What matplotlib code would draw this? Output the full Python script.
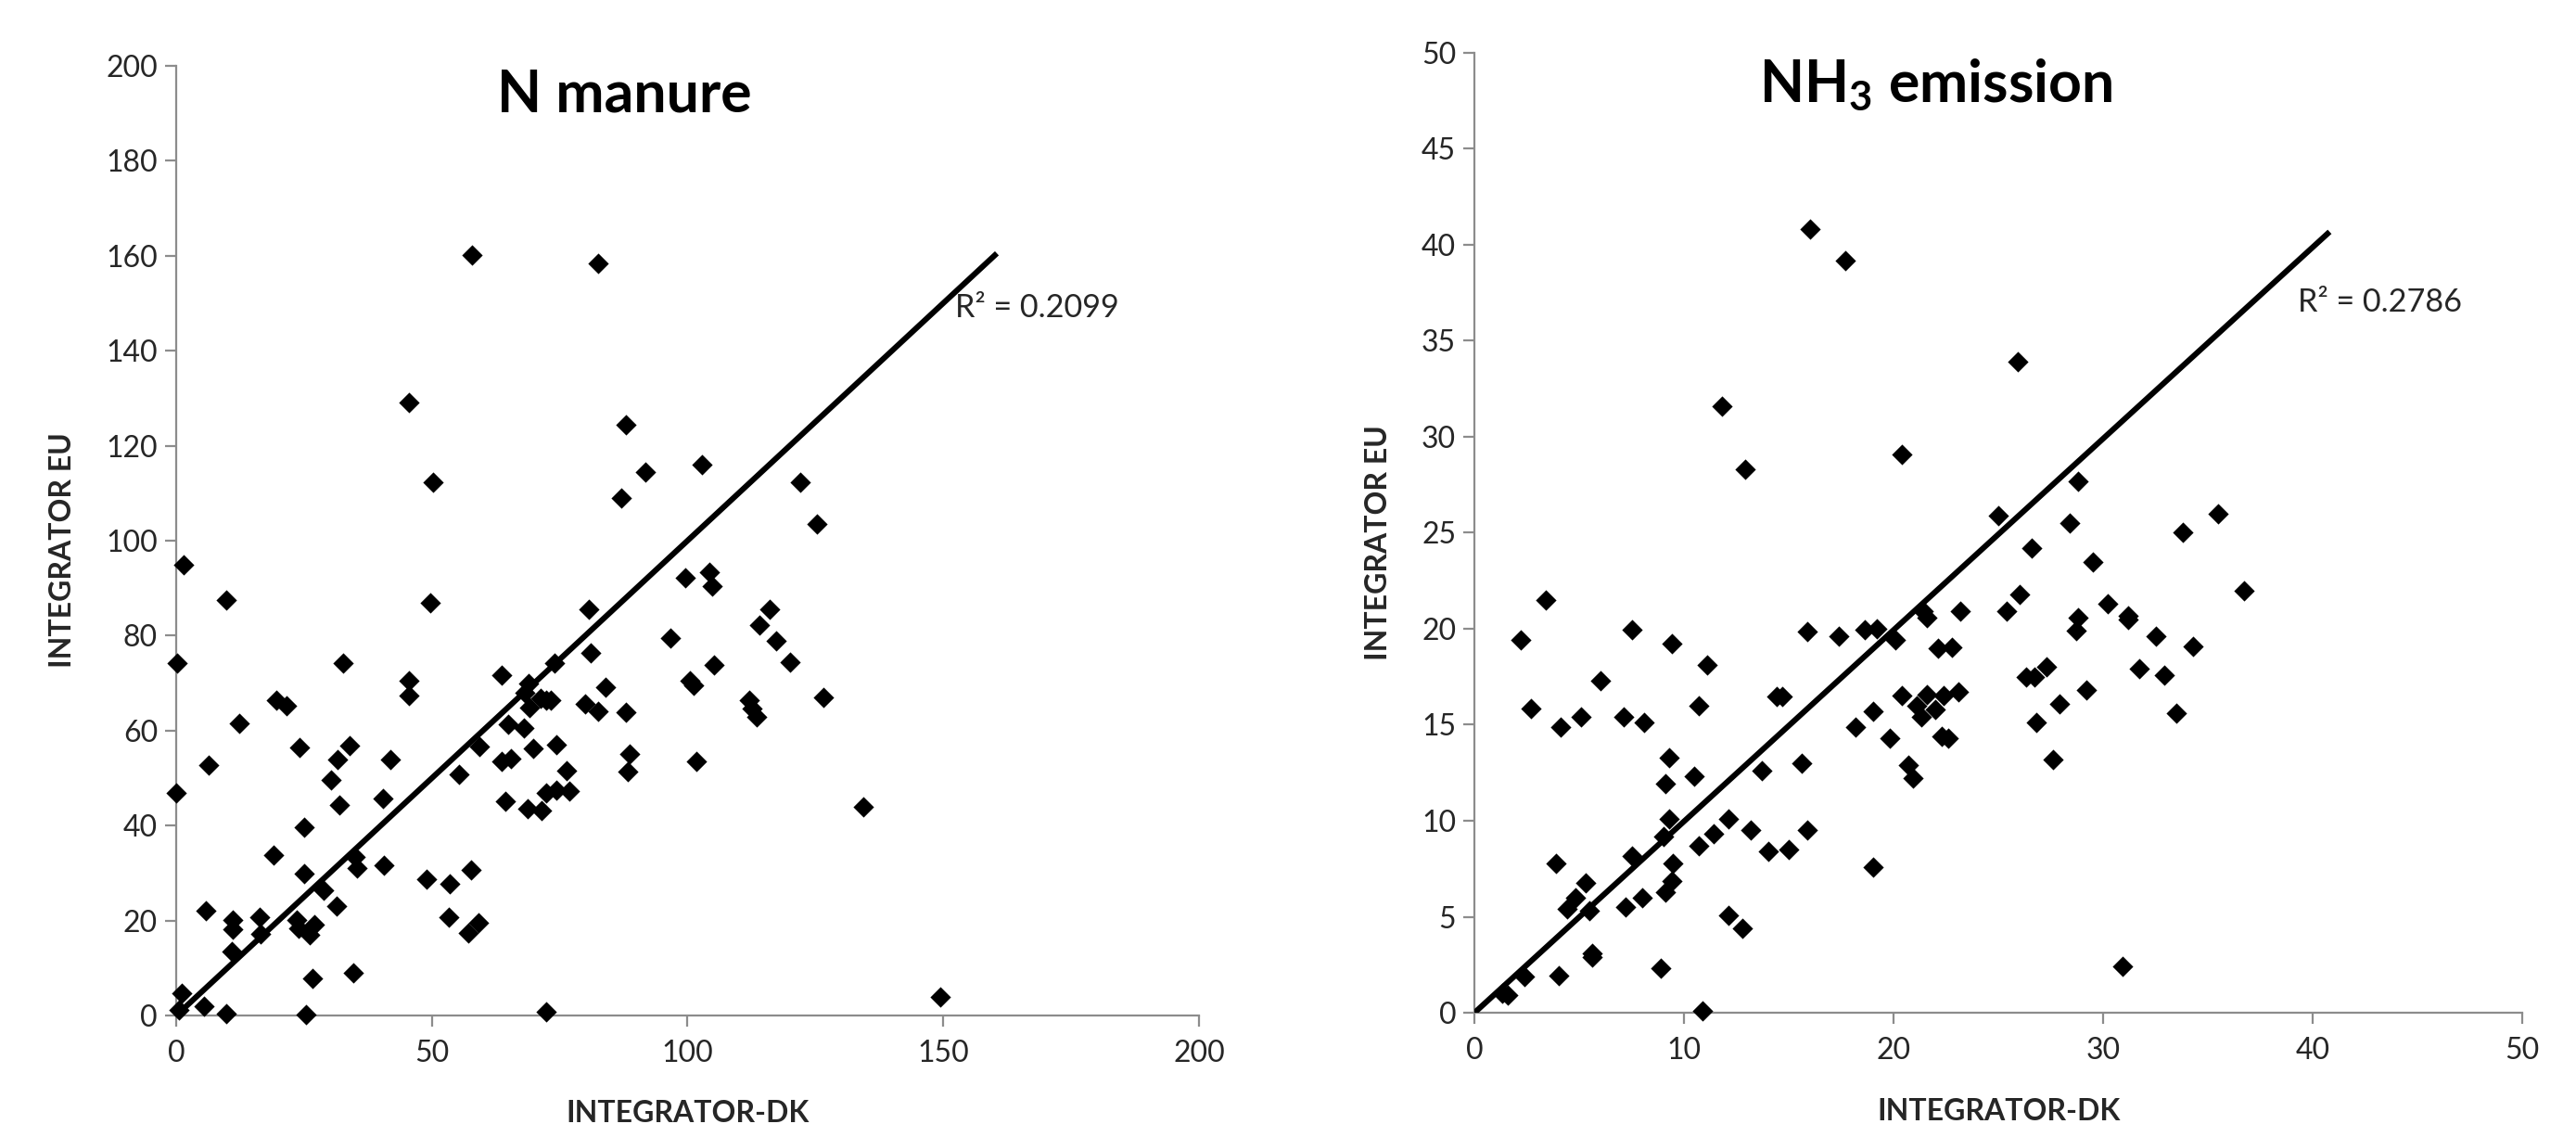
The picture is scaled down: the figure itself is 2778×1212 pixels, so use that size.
import matplotlib
matplotlib.use("Agg")
import matplotlib.pyplot as plt

plt.rcParams['font.family'] = ['Lato', 'DejaVu Sans']
plt.rcParams['mathtext.fontset'] = 'custom'
plt.rcParams['mathtext.default'] = 'regular'
plt.rcParams['mathtext.rm'] = 'Lato'
plt.rcParams['mathtext.bf'] = 'Lato:bold'

# ---------------- Data: N manure ----------------
n_dk = [57.8, 82.5, 45.5, 88.0, 102.8, 91.8, 50.2, 122.0, 87.0, 125.3,
        1.5, 99.5, 104.2, 104.9, 9.8, 49.6, 80.7, 116.1, 114.0, 96.7,
        117.4, 81.0, 120.0, 0.1, 32.6, 73.9, 105.1, 63.7, 45.5, 100.5,
        101.2, 68.9, 83.9, 68.1, 45.5, 19.5, 21.6, 126.6, 112.0, 71.3,
        72.3, 73.3, 80.0, 69.0, 82.6, 112.6, 113.6, 88.0, 12.4, 65.0,
        68.0, 24.1, 33.9, 59.3, 69.9, 74.4, 31.6, 41.9, 63.6, 65.4,
        88.6, 101.8, 6.4, 88.3, 76.4, 55.3, 30.2, 0.0, 72.4, 74.4,
        76.8, 40.5, 31.9, 64.4, 68.7, 71.4, 134.3, 25.0, 19.0, 35.0,
        35.3, 40.6, 57.7, 25.0, 48.9, 53.5, 28.9, 31.3, 5.8, 16.4,
        11.0, 23.5, 53.4, 59.2, 27.0, 11.1, 23.9, 57.2, 16.5, 26.1,
        10.8, 34.6, 26.6, 1.1, 149.5, 5.4, 0.6, 9.7, 25.3, 72.4]
n_eu = [160.2, 158.4, 129.0, 124.4, 116.0, 114.4, 112.2, 112.2, 109.0, 103.6,
        95.0, 92.2, 93.3, 90.4, 87.5, 86.9, 85.5, 85.5, 82.2, 79.4,
        79.0, 76.3, 74.4, 74.2, 74.2, 74.2, 73.8, 71.7, 70.5, 70.5,
        69.5, 69.9, 69.2, 68.0, 67.4, 66.4, 65.3, 67.0, 66.4, 66.8,
        66.5, 66.4, 65.6, 64.9, 64.1, 64.6, 62.9, 63.8, 61.6, 61.3,
        60.6, 56.4, 56.8, 56.7, 56.3, 57.1, 53.9, 53.9, 53.6, 54.2,
        55.0, 53.6, 52.8, 51.3, 51.5, 50.7, 49.7, 46.8, 46.9, 47.5,
        47.2, 45.8, 44.4, 45.1, 43.6, 43.2, 44.0, 39.7, 33.8, 33.4,
        31.1, 31.6, 30.6, 29.8, 28.8, 27.7, 26.4, 23.1, 22.1, 20.7,
        20.1, 20.2, 20.8, 19.5, 19.2, 18.1, 18.4, 17.4, 17.1, 17.0,
        13.5, 8.9, 7.8, 4.7, 3.9, 1.9, 1.2, 0.4, 0.3, 0.8]
n_trend_x = [0.0, 160.5]
n_trend_slope = 1.0
n_r2 = "R\u00b2 = 0.2099"

# ---------------- Data: NH3 emission ----------------
nh3_dk = [16.0, 17.7, 25.9, 11.8, 12.9, 20.4, 28.8, 25.0, 35.5, 28.4,
          33.8, 26.6, 29.5, 3.4, 26.0, 36.7, 30.2, 25.4, 23.2, 21.4,
          21.6, 31.2, 31.2, 28.8, 2.2, 7.5, 9.4, 15.9, 17.4, 18.6,
          19.2, 20.1, 28.7, 32.5, 22.1, 22.8, 34.3, 11.1, 27.3, 31.7,
          32.9, 26.3, 26.7, 6.0, 23.1, 29.2, 22.4, 21.6, 20.4, 14.4,
          14.7, 21.1, 27.9, 2.7, 19.0, 22.0, 10.7, 21.3, 5.1, 7.1,
          8.1, 4.1, 26.8, 18.2, 33.5, 19.8, 22.3, 22.6, 9.3, 15.6,
          27.6, 20.7, 20.9, 10.5, 9.1, 13.7, 9.3, 12.1, 13.2, 15.9,
          11.4, 9.0, 10.7, 14.0, 15.0, 7.5, 3.9, 9.45, 19.0, 5.3,
          9.4, 9.1, 4.8, 8.0, 7.2, 4.4, 5.5, 12.1, 12.8, 5.6,
          5.6, 8.9, 30.9, 4.0, 2.4, 1.6, 1.3, 10.9]
nh3_eu = [40.8, 39.2, 33.9, 31.6, 28.3, 29.1, 27.7, 25.9, 26.0, 25.5,
          25.0, 24.2, 23.5, 21.5, 21.8, 22.0, 21.3, 20.9, 20.9, 20.9,
          20.6, 20.7, 20.5, 20.6, 19.4, 19.95, 19.25, 19.85, 19.6, 19.95,
          20.0, 19.4, 19.9, 19.6, 19.0, 19.05, 19.1, 18.1, 18.0, 17.9,
          17.6, 17.5, 17.5, 17.3, 16.7, 16.8, 16.5, 16.55, 16.5, 16.45,
          16.45, 16.0, 16.1, 15.85, 15.7, 15.8, 16.0, 15.4, 15.4, 15.4,
          15.1, 14.9, 15.1, 14.9, 15.6, 14.3, 14.4, 14.3, 13.3, 13.0,
          13.2, 12.9, 12.2, 12.3, 11.95, 12.6, 10.1, 10.1, 9.5, 9.5,
          9.3, 9.2, 8.7, 8.4, 8.5, 8.15, 7.8, 7.8, 7.6, 6.75,
          6.85, 6.3, 6.0, 6.0, 5.5, 5.4, 5.3, 5.05, 4.4, 3.1,
          2.9, 2.3, 2.4, 1.95, 1.9, 0.9, 1.0, 0.1]
nh3_trend_x = [0.0, 40.8]
nh3_trend_slope = 0.997
nh3_r2 = "R\u00b2 = 0.2786"

panels = [
    dict(x=n_dk, y=n_eu, tx=n_trend_x, slope=n_trend_slope, r2=n_r2,
         r2pos=(152.3, 149.0), lim=200, ticks_x=[0, 50, 100, 150, 200],
         ticks_y=list(range(0, 201, 20)), title="N manure",
         title_pos=(0.438, 0.952), rect=[0.0684, 0.0965, 0.397, 0.845],
         ylab_x=-0.098),
    dict(x=nh3_dk, y=nh3_eu, tx=nh3_trend_x, slope=nh3_trend_slope, r2=nh3_r2,
         r2pos=(39.3, 37.0), lim=50, ticks_x=[0, 10, 20, 30, 40, 50],
         ticks_y=list(range(0, 51, 5)), title="NH$_3$ emission",
         title_pos=(0.44, 0.949), rect=[0.5724, 0.099, 0.4068, 0.854],
         ylab_x=-0.079),
]

fig = plt.figure(figsize=(13.89, 6.06), dpi=200)
spine_col = '#8c8c8c'
text_col = '#262626'

for p in panels:
    ax = fig.add_axes(p['rect'])
    ax.scatter(p['x'], p['y'], marker='D', s=32, color='black', linewidths=0,
               zorder=3, clip_on=False)
    ty = [p['slope'] * v for v in p['tx']]
    ax.plot(p['tx'], ty, color='black', lw=2.2, solid_capstyle='butt', zorder=4)
    ax.text(p['r2pos'][0], p['r2pos'][1], p['r2'], fontsize=12.3,
            color=text_col, va='center', ha='left')
    ax.set_xlim(0, p['lim'])
    ax.set_ylim(0, p['lim'])
    ax.set_xticks(p['ticks_x'])
    ax.set_yticks(p['ticks_y'])
    for s in ['top', 'right']:
        ax.spines[s].set_visible(False)
    for s in ['left', 'bottom']:
        ax.spines[s].set_color(spine_col)
        ax.spines[s].set_linewidth(0.8)
    ax.tick_params(axis='both', direction='out', length=4.2, width=0.8,
                   color=spine_col, labelsize=11.5, labelcolor=text_col, pad=3)
    ax.tick_params(axis='x', pad=5)
    ax.text(p['title_pos'][0], p['title_pos'][1], p['title'],
            transform=ax.transAxes, ha='center', va='baseline',
            fontsize=22.5, fontweight='bold', color='black')
    ax.set_xlabel('INTEGRATOR-DK', fontsize=11.5, fontweight='bold', color=text_col)
    ax.set_ylabel('INTEGRATOR EU', fontsize=11.5, fontweight='bold', color=text_col)
    ax.xaxis.set_label_coords(0.5, -0.089)
    ax.yaxis.set_label_coords(p['ylab_x'], 0.49)

fig.savefig('out.png', dpi=200, facecolor='white')
